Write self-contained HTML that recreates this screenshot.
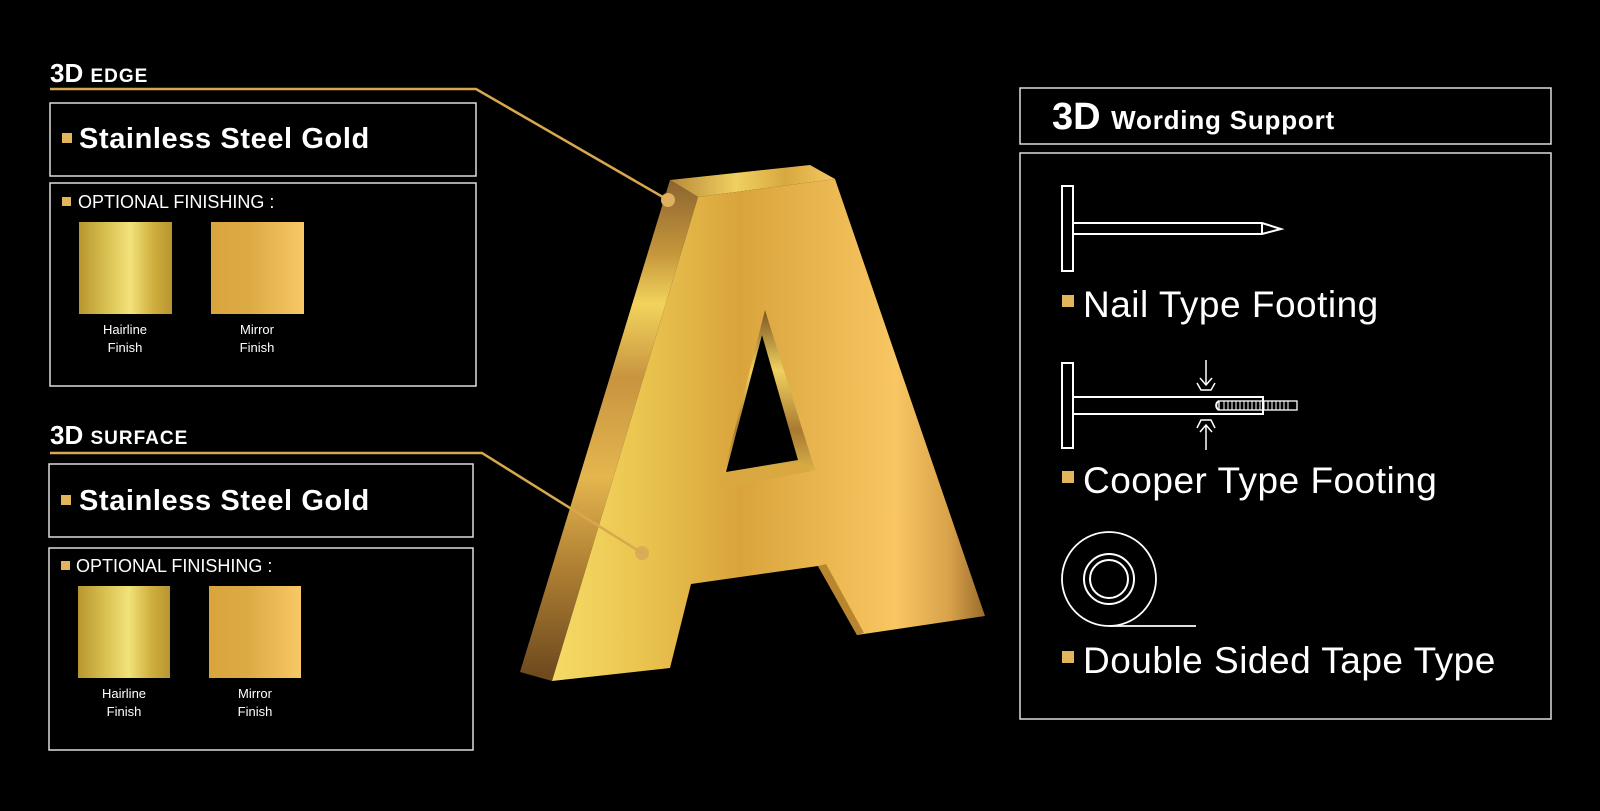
<!DOCTYPE html>
<html><head><meta charset="utf-8"><style>
html,body{margin:0;padding:0;background:#000;}
body{width:1600px;height:806px;overflow:hidden;}
svg text{font-family:"Liberation Sans",sans-serif;}
</style></head><body>
<svg width="1600" height="806" viewBox="0 0 1600 806" xmlns="http://www.w3.org/2000/svg">
<defs>
<linearGradient id="front" x1="540" y1="0" x2="985" y2="0" gradientUnits="userSpaceOnUse">
<stop offset="0" stop-color="#f6dd6a"/><stop offset="0.2" stop-color="#ecc852"/><stop offset="0.45" stop-color="#d9a43c"/><stop offset="0.8" stop-color="#f8c662"/><stop offset="0.92" stop-color="#d8a24a"/><stop offset="1" stop-color="#9a6c2c"/>
</linearGradient>
<linearGradient id="side" x1="0" y1="180" x2="0" y2="675" gradientUnits="userSpaceOnUse">
<stop offset="0" stop-color="#8c6430"/><stop offset="0.15" stop-color="#c6973c"/><stop offset="0.25" stop-color="#f2d35c"/><stop offset="0.4" stop-color="#c89440"/><stop offset="0.6" stop-color="#e4b64e"/><stop offset="0.78" stop-color="#b08034"/><stop offset="1" stop-color="#6e4a1e"/>
</linearGradient>
<linearGradient id="top" x1="670" y1="0" x2="835" y2="0" gradientUnits="userSpaceOnUse">
<stop offset="0" stop-color="#b88a38"/><stop offset="0.4" stop-color="#f0d060"/><stop offset="0.7" stop-color="#d7a840"/><stop offset="1" stop-color="#f4c862"/>
</linearGradient>
<linearGradient id="bev" x1="0" y1="310" x2="0" y2="482" gradientUnits="userSpaceOnUse">
<stop offset="0" stop-color="#7a5420"/><stop offset="0.35" stop-color="#f0d060"/><stop offset="0.7" stop-color="#a87a30"/><stop offset="1" stop-color="#e8c050"/>
</linearGradient>
<linearGradient id="hair" x1="0" y1="0" x2="1" y2="0">
<stop offset="0" stop-color="#b8962e"/><stop offset="0.3" stop-color="#d9c152"/><stop offset="0.55" stop-color="#f2e27a"/><stop offset="0.8" stop-color="#cfae3e"/><stop offset="1" stop-color="#b9952f"/>
</linearGradient>
<linearGradient id="mir" x1="0" y1="0" x2="1" y2="0">
<stop offset="0" stop-color="#d9a43e"/><stop offset="0.4" stop-color="#dcaa44"/><stop offset="1" stop-color="#f8c866"/>
</linearGradient>
</defs>

<!-- Left headings -->
<text x="50" y="82" fill="#fff" font-weight="bold" font-size="26">3D <tspan font-size="19" letter-spacing="1">EDGE</tspan></text>
<polyline points="50,89 476,89 668,200" fill="none" stroke="#d9a84e" stroke-width="2.5"/>
<rect x="50" y="103" width="426" height="73" fill="none" stroke="#ddd" stroke-width="1.5"/>
<rect x="62" y="133" width="10" height="10" fill="#e2b55a"/>
<text x="79" y="148" fill="#fff" font-weight="bold" font-size="29" letter-spacing="0.6">Stainless Steel Gold</text>
<rect x="50" y="183" width="426" height="203" fill="none" stroke="#ddd" stroke-width="1.5"/>
<rect x="62" y="197" width="9" height="9" fill="#e2b55a"/>
<text x="78" y="208" fill="#fff" font-size="18">OPTIONAL FINISHING :</text>
<rect x="79" y="222" width="93" height="92" fill="url(#hair)"/>
<rect x="211" y="222" width="93" height="92" fill="url(#mir)"/>
<text x="125" y="334" fill="#fff" font-size="13" text-anchor="middle">Hairline</text>
<text x="125" y="352" fill="#fff" font-size="13" text-anchor="middle">Finish</text>
<text x="257" y="334" fill="#fff" font-size="13" text-anchor="middle">Mirror</text>
<text x="257" y="352" fill="#fff" font-size="13" text-anchor="middle">Finish</text>

<text x="50" y="444" fill="#fff" font-weight="bold" font-size="26">3D <tspan font-size="19" letter-spacing="1">SURFACE</tspan></text>
<rect x="49" y="464" width="424" height="73" fill="none" stroke="#ddd" stroke-width="1.5"/>
<rect x="61" y="495" width="10" height="10" fill="#e2b55a"/>
<text x="79" y="510" fill="#fff" font-weight="bold" font-size="29" letter-spacing="0.6">Stainless Steel Gold</text>
<rect x="49" y="548" width="424" height="202" fill="none" stroke="#ddd" stroke-width="1.5"/>
<rect x="61" y="561" width="9" height="9" fill="#e2b55a"/>
<text x="76" y="572" fill="#fff" font-size="18">OPTIONAL FINISHING :</text>
<rect x="78" y="586" width="92" height="92" fill="url(#hair)"/>
<rect x="209" y="586" width="92" height="92" fill="url(#mir)"/>
<text x="124" y="698" fill="#fff" font-size="13" text-anchor="middle">Hairline</text>
<text x="124" y="716" fill="#fff" font-size="13" text-anchor="middle">Finish</text>
<text x="255" y="698" fill="#fff" font-size="13" text-anchor="middle">Mirror</text>
<text x="255" y="716" fill="#fff" font-size="13" text-anchor="middle">Finish</text>

<!-- Letter A -->
<polygon points="670,180 810,165 835,179 698,197" fill="url(#top)"/>
<polygon points="670,180 698,197 552,681 520,672" fill="url(#side)"/>
<polygon points="698,197 835,179 985,616 857,635 818,566 691,584 670,668 552,681" fill="url(#front)"/>
<polygon points="818,566 826,564 864,633 857,635" fill="#b8862e"/>
<polygon points="765,310 815,470 720,488" fill="url(#bev)"/>
<polygon points="762,335 798,460 726,472" fill="#000"/>
<polygon points="722,473 802,462 812,471 720,488" fill="#d9a840"/>
<polyline points="50,453 482,453 642,553" fill="none" stroke="#d9a84e" stroke-width="2.5"/>
<circle cx="668" cy="200" r="7" fill="#e0b060"/>
<circle cx="642" cy="553" r="7" fill="#d8a858" opacity="0.85"/>

<!-- Right side -->
<rect x="1020" y="88" width="531" height="56" fill="none" stroke="#ddd" stroke-width="1.5"/>
<text x="1052" y="129" fill="#fff" font-weight="bold" font-size="38">3D <tspan font-size="26" letter-spacing="0.8">Wording Support</tspan></text>
<rect x="1020" y="153" width="531" height="566" fill="none" stroke="#ddd" stroke-width="1.5"/>

<g fill="none" stroke="#fff" stroke-width="2">
<rect x="1062" y="186" width="11" height="85"/>
<polyline points="1073,223 1262,223 1281,229 1262,234 1073,234"/>
<line x1="1262" y1="223" x2="1262" y2="234"/>
<rect x="1062" y="363" width="11" height="85"/>
<polyline points="1073,397 1263,397 1263,414 1073,414"/>
<path d="M1219,401 A5,5 0 0 0 1219,410" />
<rect x="1219" y="401" width="78" height="9" stroke-width="1.3"/>
<line x1="1206" y1="360" x2="1206" y2="384" stroke-width="1.5"/>
<polyline points="1200,378 1206,385 1212,378" stroke-width="1.5"/>
<polyline points="1197,383 1201,390 1211,390 1215,383" stroke-width="1.5"/>
<line x1="1206" y1="450" x2="1206" y2="426" stroke-width="1.5"/>
<polyline points="1200,432 1206,425 1212,432" stroke-width="1.5"/>
<polyline points="1197,428 1201,420 1211,420 1215,428" stroke-width="1.5"/>
<circle cx="1109" cy="579" r="47" stroke-width="1.8"/>
<circle cx="1109" cy="579" r="25" stroke-width="2"/>
<circle cx="1109" cy="579" r="19" stroke-width="2"/>
<line x1="1109" y1="626" x2="1196" y2="626" stroke-width="1.8"/>
</g>
<g stroke="#fff" stroke-width="1">
<path d="M1224,401v9M1228,401v9M1232,401v9M1236,401v9M1240,401v9M1244,401v9M1248,401v9M1252,401v9M1256,401v9M1260,401v9M1264,401v9M1268,401v9M1272,401v9M1276,401v9M1280,401v9M1284,401v9M1288,401v9"/>
</g>

<rect x="1062" y="295" width="12" height="12" fill="#e2b55a"/>
<text x="1083" y="317" fill="#fff" font-size="37" letter-spacing="0.5">Nail Type Footing</text>
<rect x="1062" y="471" width="12" height="12" fill="#e2b55a"/>
<text x="1083" y="493" fill="#fff" font-size="37" letter-spacing="0.5">Cooper Type Footing</text>
<rect x="1062" y="651" width="12" height="12" fill="#e2b55a"/>
<text x="1083" y="673" fill="#fff" font-size="37" letter-spacing="0.5">Double Sided Tape Type</text>
</svg>
</body></html>
